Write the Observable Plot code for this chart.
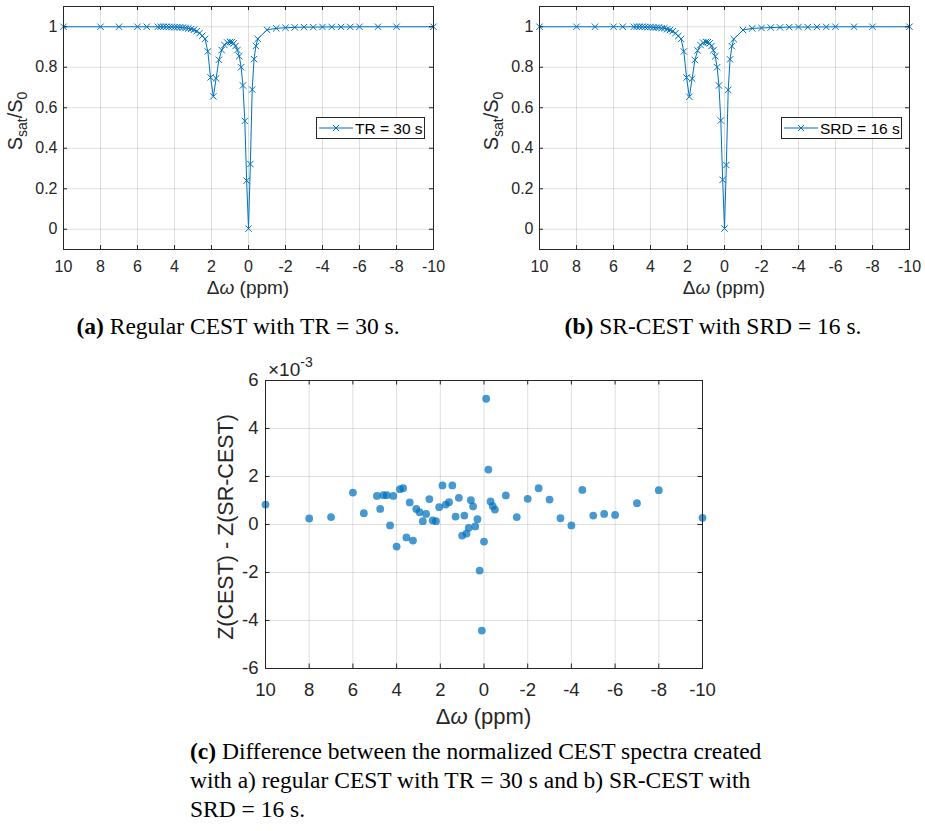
<!DOCTYPE html>
<html><head><meta charset="utf-8">
<script src="https://cdn.jsdelivr.net/npm/d3@7"></script>
<script src="https://cdn.jsdelivr.net/npm/@observablehq/plot@0.6"></script>
<style>
body{margin:0;background:#fff;}
#wrap{position:relative;width:925px;height:831px;overflow:hidden;font-family:"Liberation Sans",Arial,sans-serif;}
.panel{position:absolute;}
.cap{position:absolute;font-family:"Liberation Serif","Times New Roman",serif;font-size:23.5px;color:#000;white-space:nowrap;line-height:23px;}
.cap b{font-weight:bold;}
#capc{line-height:29px;}
</style></head><body><div id="wrap"></div>
<script>
// ---- data ----
const offsets = [10,8,7,6,5.5,4.9,4.75,4.6,4.45,4.3,4.15,4.0,3.85,3.7,3.55,3.4,3.25,3.1,2.95,2.8,2.65,2.5,2.35,2.2,2.05,1.9,1.75,1.6,1.45,1.3,1.15,1.0,0.9,0.8,0.7,0.6,0.5,0.4,0.3,0.2,0.1,0,-0.1,-0.2,-0.3,-0.4,-0.5,-1,-1.5,-2,-2.5,-3,-3.5,-4,-4.5,-5,-5.5,-6,-7,-8,-10];
const zTR = [1,1,1,1,1,1,1,1,1,0.999,0.999,0.998,0.998,0.997,0.996,0.994,0.992,0.989,0.985,0.978,0.968,0.955,0.94,0.878,0.75,0.656,0.745,0.837,0.885,0.91,0.922,0.925,0.924,0.918,0.905,0.885,0.855,0.80,0.71,0.535,0.24,0.003,0.322,0.69,0.84,0.905,0.94,0.985,0.992,0.995,0.997,0.998,0.998,0.999,0.999,0.999,0.999,1,1,1,1];
const zSRD = [1,1,1,1,1,1,1,1,1,0.999,0.998,0.999,0.997,0.996,0.996,0.993,0.993,0.988,0.984,0.978,0.968,0.954,0.94,0.878,0.749,0.654,0.744,0.836,0.883,0.91,0.921,0.925,0.924,0.918,0.905,0.884,0.854,0.80,0.71,0.537,0.244,0.004,0.317,0.688,0.839,0.904,0.939,0.984,0.992,0.994,0.996,0.997,0.998,0.999,0.998,0.999,0.999,1,1,1,1];
// Z(CEST) - Z(SR-CEST), in units of 10^-3
const diff = [0.83,0.25,0.31,1.33,0.47,1.19,0.65,1.22,1.22,-0.04,1.19,-0.92,1.47,1.51,-0.54,0.92,-0.67,0.65,0.51,0.14,0.44,1.06,0.17,0.14,0.72,1.63,0.83,0.93,1.63,0.33,1.11,-0.46,0.37,-0.38,-0.14,1.01,0.75,-0.08,0.22,-1.92,-4.42,-0.71,5.24,2.29,0.96,0.76,0.62,1.21,0.31,1.07,1.51,1.04,0.26,-0.04,1.44,0.37,0.44,0.40,0.89,1.43,0.28];
const xTicks = [10,8,6,4,2,0,-2,-4,-6,-8,-10];
const zTicks = [0,0.2,0.4,0.6,0.8,1];
const dTicks = [-6,-4,-2,0,2,4,6];
const captionA = "Regular CEST with TR = 30 s.";
const captionB = "SR-CEST with SRD = 16 s.";
const captionC = ["Difference between the normalized CEST spectra created","with a) regular CEST with TR = 30 s and b) SR-CEST with","SRD = 16 s."];

const BLUE = "#0072BD", INK = "#262626";
const wrap = document.getElementById("wrap");

function place(el, left, top) {
  const d = document.createElement("div");
  d.className = "panel"; d.style.left = left + "px"; d.style.top = top + "px";
  d.appendChild(el); wrap.appendChild(d); return d;
}

function innerTicks(ticksX, ticksY, iw, ih, len) {
  return [
    Plot.tickX(ticksX, {x: d => d, stroke: INK, insetTop: ih - len}),
    Plot.tickX(ticksX, {x: d => d, stroke: INK, insetBottom: ih - len}),
    Plot.tickY(ticksY, {y: d => d, stroke: INK, insetRight: iw - len}),
    Plot.tickY(ticksY, {y: d => d, stroke: INK, insetLeft: iw - len})
  ];
}

function zPlot(values, legendText, m, leg) {
  const W = m.width, H = m.height;
  const iw = W - m.left - m.right, ih = H - m.top - m.bottom;
  const data = offsets.map((o, i) => ({ppm: o, z: values[i]}));
  const svg = Plot.plot({
    width: W, height: H,
    marginLeft: m.left, marginRight: m.right, marginTop: m.top, marginBottom: m.bottom,
    style: {fontFamily: "'Liberation Sans', Arial, sans-serif", background: "transparent", overflow: "visible", color: INK},
    x: {domain: [10, -10]},
    y: {domain: [-0.1, 1.1]},
    marks: [
      Plot.gridX(xTicks, {x: d => d, stroke: INK, strokeOpacity: 0.15}),
      Plot.gridY(zTicks, {y: d => d, stroke: INK, strokeOpacity: 0.15}),
      Plot.line(data, {x: "ppm", y: "z", stroke: BLUE, strokeWidth: 1}),
      Plot.dot(data, {x: "ppm", y: "z", symbol: "times", r: 3, stroke: BLUE, strokeWidth: 1}),
      ...innerTicks(xTicks, zTicks, iw, ih, 4),
      Plot.frame({stroke: INK}),
      Plot.axisX({ticks: xTicks, tickSize: 0, tickPadding: 11, tickFormat: d => String(d), fontSize: 16, fill: INK, label: null}),
      Plot.axisY({ticks: zTicks, tickSize: 0, tickPadding: 6, tickFormat: d => String(d), fontSize: 16, fill: INK, label: null})
    ]
  });
  const s = d3.select(svg);
  // x label
  const xl = s.append("text").attr("x", m.left + iw / 2).attr("y", H - 6)
    .attr("text-anchor", "middle").attr("font-size", 19).attr("fill", INK);
  xl.append("tspan").text("Δ");
  xl.append("tspan").attr("font-style", "italic").text("ω");
  xl.append("tspan").text(" (ppm)");
  // y label
  const yl = s.append("text").attr("transform", `translate(${m.ylx},${m.yly}) rotate(-90)`)
    .attr("text-anchor", "middle").attr("font-size", 20).attr("fill", INK);
  yl.append("tspan").text("S");
  yl.append("tspan").attr("font-size", 14).attr("dy", 5).text("sat");
  yl.append("tspan").attr("dy", -5).text("/S");
  yl.append("tspan").attr("font-size", 14).attr("dy", 5).text("0");
  // legend
  const g = s.append("g").attr("text-anchor", "start");
  g.append("rect").attr("x", leg.x + 0.5).attr("y", leg.y + 0.5).attr("width", leg.w).attr("height", leg.h)
    .attr("fill", "#fff").attr("stroke", INK).attr("stroke-width", 1);
  const cy = leg.y + leg.h / 2 + 0.5;
  g.append("line").attr("x1", leg.x + 3).attr("x2", leg.x + 37).attr("y1", cy).attr("y2", cy)
    .attr("stroke", BLUE).attr("stroke-width", 1);
  const mx = leg.x + 20;
  g.append("path").attr("d", `M${mx-3},${cy-3}L${mx+3},${cy+3}M${mx-3},${cy+3}L${mx+3},${cy-3}`)
    .attr("stroke", BLUE).attr("stroke-width", 1);
  g.append("text").attr("x", leg.x + 39).attr("y", cy + 5.5).attr("text-anchor", "start")
    .attr("font-size", 15.5).attr("fill", "#000").text(legendText);
  return svg;
}

const legendA = "TR = 30 s", legendB = "SRD = 16 s";
place(zPlot(zTR, legendA, {width: 460, height: 300, left: 63, right: 27, top: 6, bottom: 51, ylx: 22, yly: 121},
  {x: 316, y: 117, w: 108, h: 21}), 0, 0);
place(zPlot(zSRD, legendB, {width: 465, height: 300, left: 79, right: 16, top: 6, bottom: 51, ylx: 38, yly: 121},
  {x: 321, y: 117, w: 120, h: 21}), 460, 0);

// difference scatter
(function(){
  const W = 560, H = 395, m = {left: 85, right: 38, top: 35, bottom: 72};
  const iw = W - m.left - m.right, ih = H - m.top - m.bottom;
  const data = offsets.map((o, i) => ({ppm: o, d: diff[i]}));
  const svg = Plot.plot({
    width: W, height: H,
    marginLeft: m.left, marginRight: m.right, marginTop: m.top, marginBottom: m.bottom,
    style: {fontFamily: "'Liberation Sans', Arial, sans-serif", background: "transparent", overflow: "visible", color: INK},
    x: {domain: [10, -10]},
    y: {domain: [-6, 6]},
    marks: [
      Plot.gridX(xTicks, {x: d => d, stroke: INK, strokeOpacity: 0.15}),
      Plot.gridY(dTicks, {y: d => d, stroke: INK, strokeOpacity: 0.15}),
      Plot.dot(data, {x: "ppm", y: "d", r: 3.9, fill: BLUE, fillOpacity: 0.72, stroke: "none"}),
      ...innerTicks(xTicks, dTicks, iw, ih, 4.5),
      Plot.frame({stroke: INK}),
      Plot.axisX({ticks: xTicks, tickSize: 0, tickPadding: 14, tickFormat: d => String(d), fontSize: 18.5, fill: INK, label: null}),
      Plot.axisY({ticks: dTicks, tickSize: 0, tickPadding: 7, tickFormat: d => String(d), fontSize: 18.5, fill: INK, label: null})
    ]
  });
  const s = d3.select(svg);
  const xl = s.append("text").attr("x", m.left + iw / 2).attr("y", 379)
    .attr("text-anchor", "middle").attr("font-size", 22).attr("fill", INK);
  xl.append("tspan").text("Δ");
  xl.append("tspan").attr("font-style", "italic").text("ω");
  xl.append("tspan").text(" (ppm)");
  s.append("text").attr("transform", `translate(53,${m.top + ih / 2 + 3}) rotate(-90)`)
    .attr("text-anchor", "middle").attr("font-size", 21.5).attr("fill", INK).text("Z(CEST) - Z(SR-CEST)");
  const e = s.append("text").attr("x", 88).attr("y", 31).attr("text-anchor", "start").attr("font-size", 19).attr("fill", INK);
  e.append("tspan").text("×10");
  e.append("tspan").attr("font-size", 14).attr("dy", -9).text("-3");
  place(svg, 180, 345);
})();

// captions
function cap(html, left, top, center) {
  const d = document.createElement("div");
  d.className = "cap"; d.innerHTML = html;
  d.style.left = left + "px"; d.style.top = top + "px";
  if (center) d.style.transform = "translateX(-50%)";
  wrap.appendChild(d); return d;
}
cap("<b>(a)</b> " + captionA, 238, 315, true);
cap("<b>(b)</b> " + captionB, 713, 315, true);
const c = cap("<b>(c)</b> " + captionC[0] + "<br>" + captionC[1] + "<br>" + captionC[2], 190, 737, false);
c.id = "capc";
</script></body></html>
